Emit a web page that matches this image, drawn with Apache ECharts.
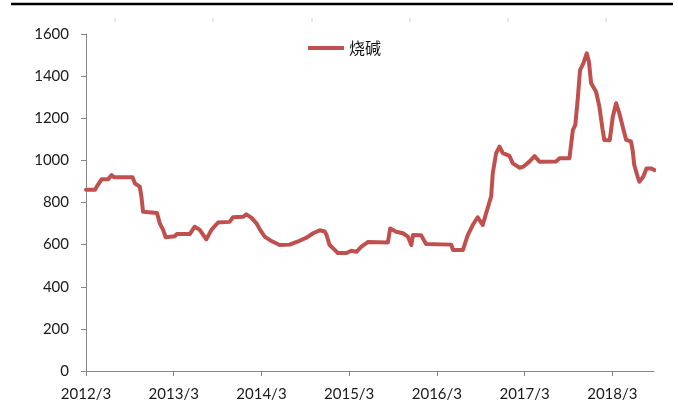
<!DOCTYPE html>
<html>
<head>
<meta charset="utf-8">
<script src="https://cdn.jsdelivr.net/npm/echarts@6/dist/echarts.min.js"></script>
<style>
  html, body { margin: 0; padding: 0; background: #fff; }
  #chart { width: 678px; height: 412px; }
</style>
</head>
<body>
<div id="chart"></div>
<script>
// 烧碱价格（周度，读图估计）
const seriesName = "烧碱";
const dates = [
  "2012-03-01", "2012-04-08", "2012-04-15", "2012-05-05", "2012-06-01", "2012-06-16", "2012-06-26",
  "2012-09-12", "2012-09-22", "2012-10-12", "2012-10-19", "2012-10-26", "2012-12-23", "2013-01-04",
  "2013-01-18", "2013-01-29", "2013-03-06", "2013-03-14", "2013-05-07", "2013-05-28", "2013-06-18",
  "2013-07-15", "2013-08-06", "2013-09-03", "2013-10-21", "2013-11-04", "2013-12-16", "2013-12-30",
  "2014-01-20", "2014-02-10", "2014-02-24", "2014-03-15", "2014-04-12", "2014-05-16", "2014-06-27",
  "2014-08-01", "2014-09-06", "2014-10-03", "2014-10-31", "2014-11-21", "2014-11-28", "2014-12-11",
  "2015-01-02", "2015-01-15", "2015-02-19", "2015-03-10", "2015-04-01", "2015-04-21", "2015-05-18",
  "2015-08-10", "2015-08-20", "2015-09-14", "2015-10-12", "2015-11-02", "2015-11-16", "2015-11-23",
  "2015-12-27", "2016-01-17", "2016-04-30", "2016-05-07", "2016-06-18", "2016-07-08", "2016-07-29",
  "2016-08-19", "2016-09-09", "2016-09-23", "2016-10-14", "2016-10-21", "2016-11-04", "2016-11-18",
  "2016-12-02", "2016-12-30", "2017-01-13", "2017-02-10", "2017-02-24", "2017-03-21", "2017-04-12",
  "2017-05-02", "2017-07-11", "2017-07-25", "2017-09-05", "2017-09-19", "2017-09-29", "2017-10-09",
  "2017-10-19", "2017-11-02", "2017-11-16", "2017-11-25", "2017-12-04", "2017-12-25", "2018-01-08",
  "2018-01-22", "2018-01-29", "2018-02-19", "2018-03-03", "2018-03-17", "2018-03-31", "2018-04-17",
  "2018-04-28", "2018-05-18", "2018-05-25", "2018-06-01", "2018-06-15", "2018-06-22", "2018-07-08",
  "2018-07-22", "2018-08-10", "2018-08-24"
];
const values = [
  860, 860, 875, 910, 910, 930, 920,
  920, 890, 875, 828, 756, 750, 701,
  670, 635, 640, 650, 650, 685, 670,
  625, 670, 705, 708, 730, 732, 744,
  728, 701, 670, 638, 617, 598, 600,
  615, 633, 654, 668, 662, 646, 598,
  575, 560, 560, 571, 566, 590, 612,
  610, 677, 661, 654, 638, 598, 646,
  645, 603, 600, 575, 575, 645, 693,
  730, 693, 749, 828, 939, 1034, 1065,
  1034, 1021, 986, 965, 970, 994, 1020,
  994, 995, 1010, 1010, 1144, 1168, 1287,
  1429, 1461, 1508, 1468, 1366, 1326, 1255,
  1144, 1097, 1095, 1207, 1271, 1223, 1144,
  1097, 1090, 1049, 978, 922, 899, 922,
  962, 962, 954
];
const tickLabels = ["2012/3", "2013/3", "2014/3", "2015/3", "2016/3", "2017/3", "2018/3"];

// 日期 -> 距 2012/3 的月数
function monthsFrom(d) {
  const [y, m, day] = d.split("-").map(Number);
  const dim = new Date(y, m, 0).getDate();
  return (y - 2012) * 12 + (m - 3) + (day - 1) / dim;
}
const points = dates.map((d, i) => [monthsFrom(d), values[i]]);

const labelFont = "Lato, 'Noto Sans', sans-serif";
const myChart = echarts.init(document.getElementById("chart"), null, { renderer: "canvas" });

// 顶部的黑线和浅色刻度（截图残留）
const topMarks = [115, 213, 312, 410, 508, 606].map(x => ({
  type: "line",
  shape: { x1: x, y1: 18, x2: x, y2: 22 },
  style: { stroke: "#c9c9ee", lineWidth: 1 }
}));

myChart.setOption({
  animation: false,
  backgroundColor: "#fff",
  graphic: [
    {
      type: "line",
      shape: { x1: 11, y1: 4, x2: 673, y2: 4 },
      style: { stroke: "#000", lineWidth: 2.5 }
    },
    ...topMarks
  ],
  legend: {
    left: 303,
    top: 35,
    icon: "rect",
    itemWidth: 36,
    itemHeight: 4,
    textStyle: {
      fontFamily: "'Noto Sans CJK SC', sans-serif",
      fontSize: 16,
      color: "#111"
    },
    data: [seriesName]
  },
  grid: {
    left: 86,
    right: 24,
    top: 34,
    bottom: 41,
    containLabel: false
  },
  xAxis: {
    type: "value",
    min: 0,
    max: 77.7,
    interval: 12,
    splitLine: { show: false },
    axisLine: { show: true, lineStyle: { color: "#868686", width: 1 } },
    axisTick: { show: true, length: 5, lineStyle: { color: "#868686" } },
    axisLabel: {
      margin: 16,
      fontFamily: labelFont,
      fontSize: 15,
      color: "#1a1a1a",
      showMaxLabel: false,
      formatter: v => tickLabels[Math.round(v / 12)] || ""
    }
  },
  yAxis: {
    type: "value",
    min: 0,
    max: 1600,
    interval: 200,
    splitLine: { show: false },
    axisLine: { show: true, lineStyle: { color: "#868686", width: 1 } },
    axisTick: { show: true, length: 5, lineStyle: { color: "#868686" } },
    axisLabel: {
      margin: 17,
      fontFamily: labelFont,
      fontSize: 15,
      color: "#1a1a1a",
      formatter: v => String(v)
    }
  },
  series: [
    {
      name: seriesName,
      type: "line",
      data: points,
      showSymbol: false,
      smooth: false,
      color: "#C0504D",
      lineStyle: { color: "#C0504D", width: 4, cap: "round", join: "round" }
    }
  ]
});
</script>
</body>
</html>
